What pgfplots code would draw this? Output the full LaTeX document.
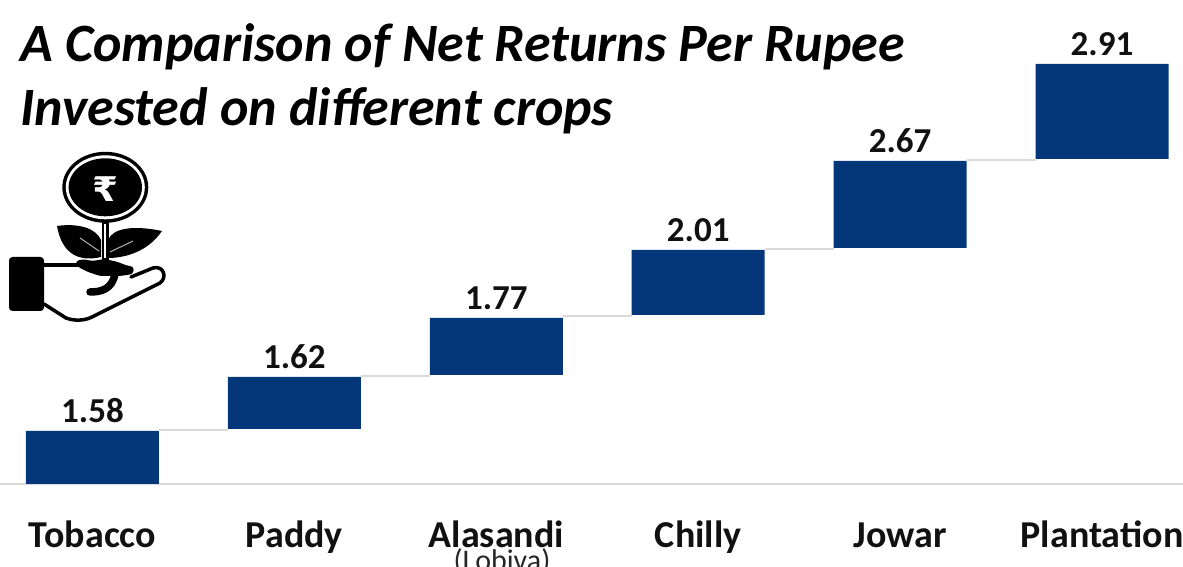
\documentclass[border=0pt]{standalone}
\usepackage{pgfplots}
\usepackage{pgfplotstable}
\usepackage{fontspec}
\pgfplotsset{compat=1.18}
\setmainfont{Carlito}
\newfontfamily\symfont{DejaVu Sans}
\definecolor{barblue}{HTML}{03377A}
\definecolor{connector}{HTML}{D9D9D9}
\definecolor{inktext}{HTML}{111111}
\pgfplotstableread{
x base h top lab
0 0 53 53 1.58
1 55 52 107 1.62
2 109 57 166 1.77
3 169 65 234 2.01
4 236 87 323 2.67
5 325 95 420 2.91
}\returns
\pgfplotsset{common/.style={
  at={(0pt,83pt)}, anchor=south west,
  scale only axis, width=1183pt, height=484pt,
  xmin=-0.4581, xmax=5.4012, ymin=0, ymax=484,
  enlargelimits=false, clip=false,
}}
\begin{document}
\begin{tikzpicture}
\useasboundingbox (0,0) rectangle (1183pt,567pt);
\clip (0,0) rectangle (1183pt,567pt);
\begin{axis}[common, hide axis]
\addplot[connector, line width=2pt, unbounded coords=jump] coordinates {
(0.329,54) (0.671,54) (1,nan)
(1.329,108) (1.671,108) (2,nan)
(2.329,167.5) (2.671,167.5) (3,nan)
(3.329,235) (3.671,235) (4,nan)
(4.329,324) (4.671,324)
};
\addplot[draw=none, mark=none,
  point meta=explicit symbolic,
  nodes near coords,
  nodes near coords style={font=\fontsize{35}{35}\selectfont\bfseries, text=inktext, anchor=base, inner sep=0pt, yshift=8pt},
] table[x=x,y=top,meta=lab] {\returns};
\end{axis}
\begin{axis}[common,
  ybar stacked, bar width=133pt,
  axis x line=bottom, axis y line=none,
  axis line style={-, color=connector, line width=2.2pt},
  xtick={0,...,5}, major tick length=0pt,
  xticklabels={Tobacco,Paddy,Alasandi,Chilly,Jowar,Plantation},
  xticklabel style={font=\fontsize{38}{38}\selectfont\bfseries, text=inktext, anchor=base, yshift=-64pt, inner sep=0pt},
]
\addplot[draw=none, fill=none] table[x=x,y=base] {\returns};
\addplot[fill=barblue, draw=none] table[x=x,y=h] {\returns};
\end{axis}
% title, sub-label and icon, in reference pixel coordinates
\begin{scope}[shift={(0pt,567pt)}, x=1pt, y=-1pt]
\node[anchor=base west, inner sep=0pt, font=\fontsize{54}{54}\selectfont\bfseries\itshape] at (20,62) {A Comparison of Net Returns Per Rupee};
\node[anchor=base west, inner sep=0pt, font=\fontsize{54}{54}\selectfont\bfseries\itshape] at (20,126) {Invested on different crops};
\node[anchor=base, inner sep=0pt, text=black!85, font=\fontsize{30}{30}\selectfont] at (502,571) {(Lobiva)};
% coin
\fill[black] (105.3,187.3) ellipse[x radius=43, y radius=35.5];
\fill[white] (105.3,187.3) ellipse[x radius=39.5, y radius=32];
\fill[black] (105.3,187.3) ellipse[x radius=36.7, y radius=29];
\node[text=white, inner sep=0pt, xscale=1.1, font=\symfont\bfseries\fontsize{34}{34}\selectfont] at (105.3,189) {₹};
% stem
\draw[black, line width=7pt] (105,221) -- (105,262);
\draw[white, line width=1.8pt] (105,224) -- (105,258);
% leaves
\fill[black] (57,226) .. controls (78,223) and (96,228) .. (101,240) -- (101,257) .. controls (80,262) and (62,255) .. (57,226) -- cycle;
\fill[black] (162,231) .. controls (133,225) and (113,228) .. (108,240) -- (108,258) .. controls (123,258) and (147,253) .. (162,231) -- cycle;
\draw[black!30, line width=1pt] (80,238) -- (99,251);
\draw[black!30, line width=1pt] (133,241) -- (110,252);
% soil
\fill[black, rounded corners=3pt] (75,262) -- (82,259) -- (92,261) -- (105,259) -- (118,262) -- (125,265) -- (134,267) -- (133,274) -- (120,276) -- (100,276) -- (88,272) -- (78,267) -- cycle;
% hand
\draw[black, line width=3.5pt, line join=round] (44,265) -- (78,265);
\draw[black, line width=3.5pt, line join=round, line cap=round] (44,304) -- (66,318) .. controls (74,321) and (84,321) .. (92,317) -- (160,283) .. controls (168,277) and (163,265) .. (153,268) -- (131,277);
\draw[black, line width=7.5pt, line cap=round] (90,292) .. controls (100,292) and (112,290) .. (115,274);
% cuff
\fill[black, rounded corners=3.5pt] (9,257) rectangle (44,311);
\end{scope}
\end{tikzpicture}
\end{document}
